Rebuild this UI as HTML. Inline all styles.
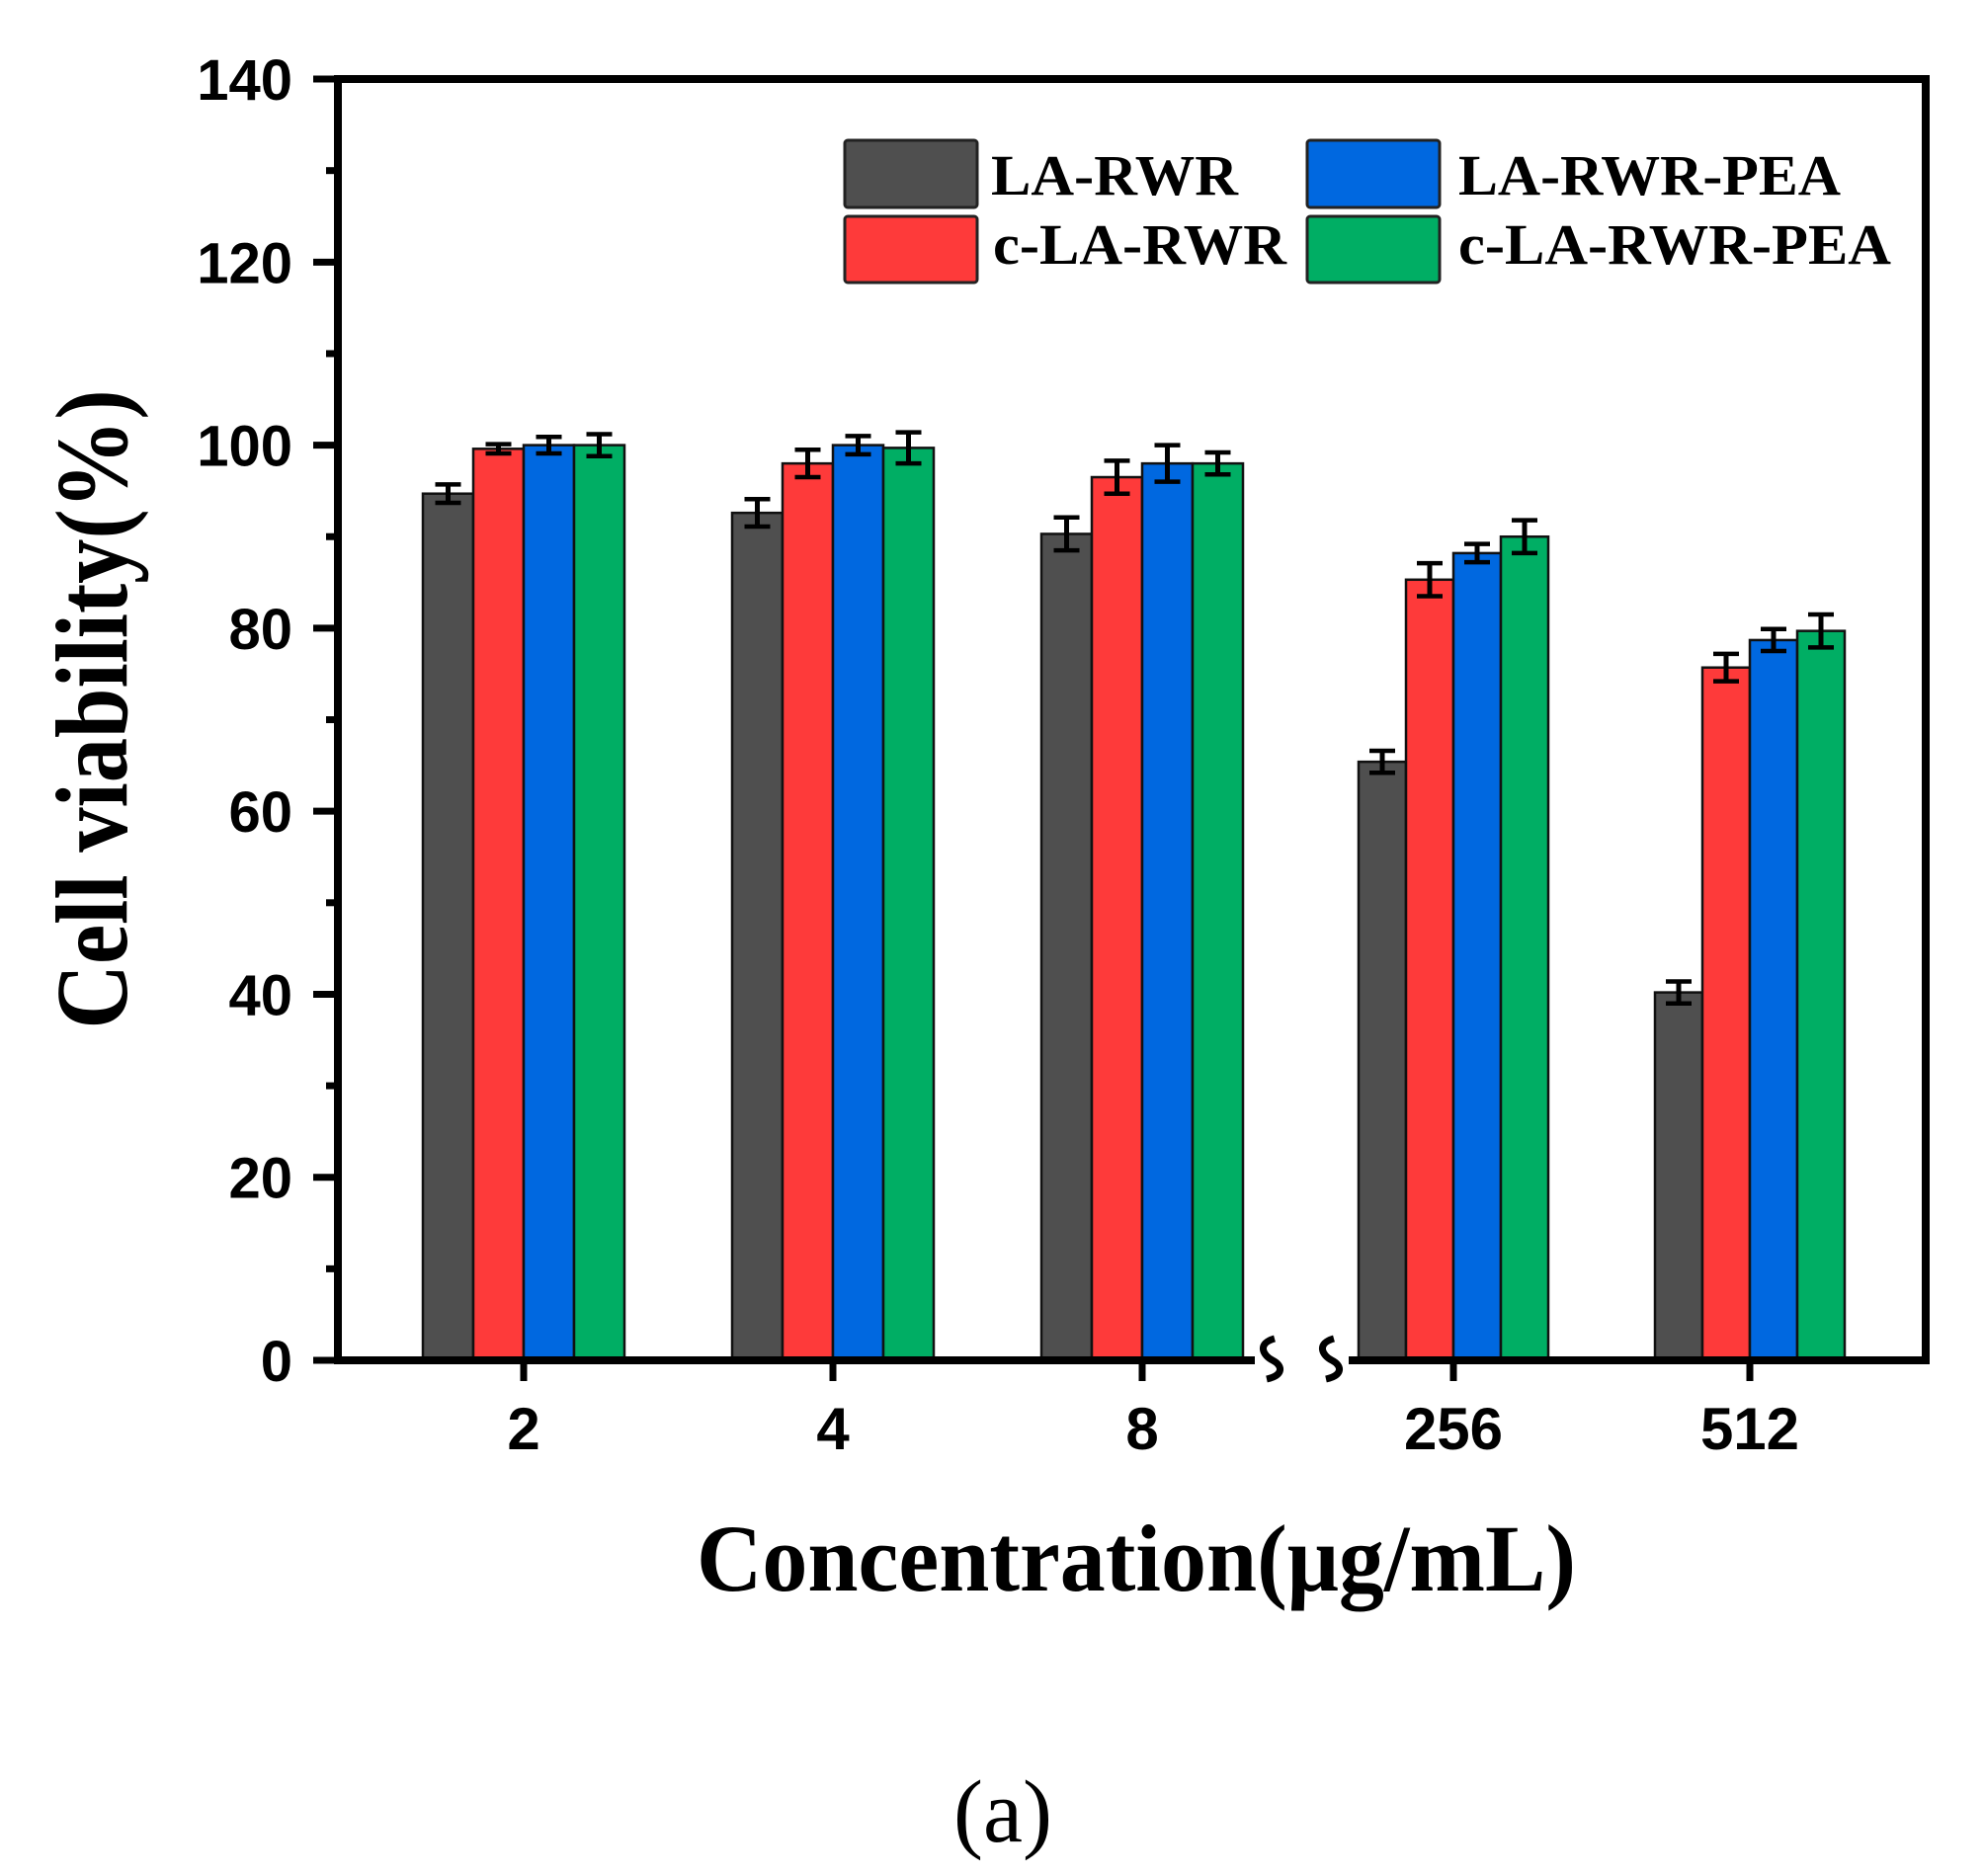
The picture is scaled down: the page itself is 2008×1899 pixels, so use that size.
<!DOCTYPE html>
<html><head><meta charset="utf-8"><style>html,body{margin:0;padding:0;background:#fff}svg{display:block}</style></head>
<body>
<svg id="s" xmlns="http://www.w3.org/2000/svg" width="2008" height="1899" viewBox="0 0 2008 1899">
<rect width="2008" height="1899" fill="#fff"/>
<g id="bars"></g>
<rect x="342" y="80" width="1607" height="1297" fill="none" stroke="#000" stroke-width="8"/>
<g id="ticks" stroke="#000" stroke-width="7"></g>
<rect x="1270" y="1372" width="95" height="10" fill="#fff"/>
<path d="M1290 1355 C1272 1360,1278 1372,1288 1377 C1298 1382,1300 1392,1282 1396" fill="none" stroke="#000" stroke-width="7"/>
<path d="M1350 1355 C1332 1360,1338 1372,1348 1377 C1358 1382,1360 1392,1342 1396" fill="none" stroke="#000" stroke-width="7"/>
<g font-family="'Liberation Sans',sans-serif" font-weight="bold" font-size="58" fill="#000" id="ylabels" text-anchor="end"></g>
<g font-family="'Liberation Sans',sans-serif" font-weight="bold" font-size="60" fill="#000" text-anchor="middle">
<text x="530" y="1467">2</text><text x="843" y="1467">4</text><text x="1156" y="1467">8</text><text x="1471" y="1467">256</text><text x="1771" y="1467">512</text>
</g>
<g stroke="#222" stroke-width="3">
<rect x="855" y="142" width="134" height="68" fill="#4f4f4f" rx="3"/>
<rect x="855" y="219" width="134" height="67" fill="#fe3a3a" rx="3"/>
<rect x="1323" y="142" width="134" height="68" fill="#0068e0" rx="3"/>
<rect x="1323" y="219" width="134" height="67" fill="#00ae64" rx="3"/>
</g>
<g font-family="'Liberation Serif',serif" font-weight="bold" font-size="58" fill="#000">
<text x="1003" y="197" textLength="250" lengthAdjust="spacingAndGlyphs">LA-RWR</text>
<text x="1005" y="267" textLength="297" lengthAdjust="spacingAndGlyphs">c-LA-RWR</text>
<text x="1476" y="197" textLength="387" lengthAdjust="spacingAndGlyphs">LA-RWR-PEA</text>
<text x="1476" y="267" textLength="438" lengthAdjust="spacingAndGlyphs">c-LA-RWR-PEA</text>
</g>
<text x="1150" y="1610" font-family="'Liberation Serif',serif" font-weight="bold" font-size="96" text-anchor="middle" textLength="890" lengthAdjust="spacingAndGlyphs">Concentration(μg/mL)</text>
<text transform="translate(128,718) rotate(-90)" font-family="'Liberation Serif',serif" font-weight="bold" font-size="104" text-anchor="middle" textLength="647" lengthAdjust="spacingAndGlyphs">Cell viability(%)</text>
<text x="1015" y="1864" font-family="'Liberation Serif',serif" font-size="90" text-anchor="middle">(a)</text>
</svg>
<script>
(function(){
var NS="http://www.w3.org/2000/svg";
function el(p,t,a){var e=document.createElementNS(NS,t);for(var k in a)e.setAttribute(k,a[k]);p.appendChild(e);return e;}
function Y(v){return 1377-9.264*v;}
var cols=["#4f4f4f","#fe3a3a","#0068e0","#00ae64"];
var centers=[530,843,1156,1471,1771];
var widths=[51,51,51,48,48];
var data=[[[94.7,1],[99.6,0.5],[100,0.9],[100,1.2]],
[[92.6,1.5],[98,1.5],[100,1],[99.7,1.7]],
[[90.3,1.8],[96.5,1.8],[98,2],[98,1.2]],
[[65.4,1.2],[85.3,1.8],[88.2,1],[90,1.8]],
[[40.2,1.2],[75.7,1.5],[78.7,1.2],[79.7,1.8]]];
var g=document.getElementById("bars");
for(var i=0;i<5;i++){var w=widths[i];var x0=centers[i]-2*w;
for(var j=0;j<4;j++){var v=data[i][j][0],e=data[i][j][1];var x=x0+j*w;
el(g,"rect",{x:x,y:Y(v),width:w,height:1377-Y(v),fill:cols[j],stroke:"#111","stroke-width":2.5});
var cx=x+w/2;
el(g,"line",{x1:cx,x2:cx,y1:Y(v+e),y2:Y(v-e),stroke:"#000","stroke-width":5});
el(g,"line",{x1:cx-13,x2:cx+13,y1:Y(v+e),y2:Y(v+e),stroke:"#000","stroke-width":4.5});
el(g,"line",{x1:cx-13,x2:cx+13,y1:Y(v-e),y2:Y(v-e),stroke:"#000","stroke-width":4.5});
}}
var t=document.getElementById("ticks");
for(var v=0;v<=140;v+=10){var y=Y(v);el(t,"line",{x1:v%20==0?317:330,x2:342,y1:y,y2:y});}
for(var i=0;i<5;i++)el(t,"line",{x1:centers[i],x2:centers[i],y1:1377,y2:1398});
var yl=document.getElementById("ylabels");
for(var v=0;v<=140;v+=20){var tx=el(yl,"text",{x:296,y:Y(v)+21});tx.textContent=v;}
})();
</script>
</body></html>
